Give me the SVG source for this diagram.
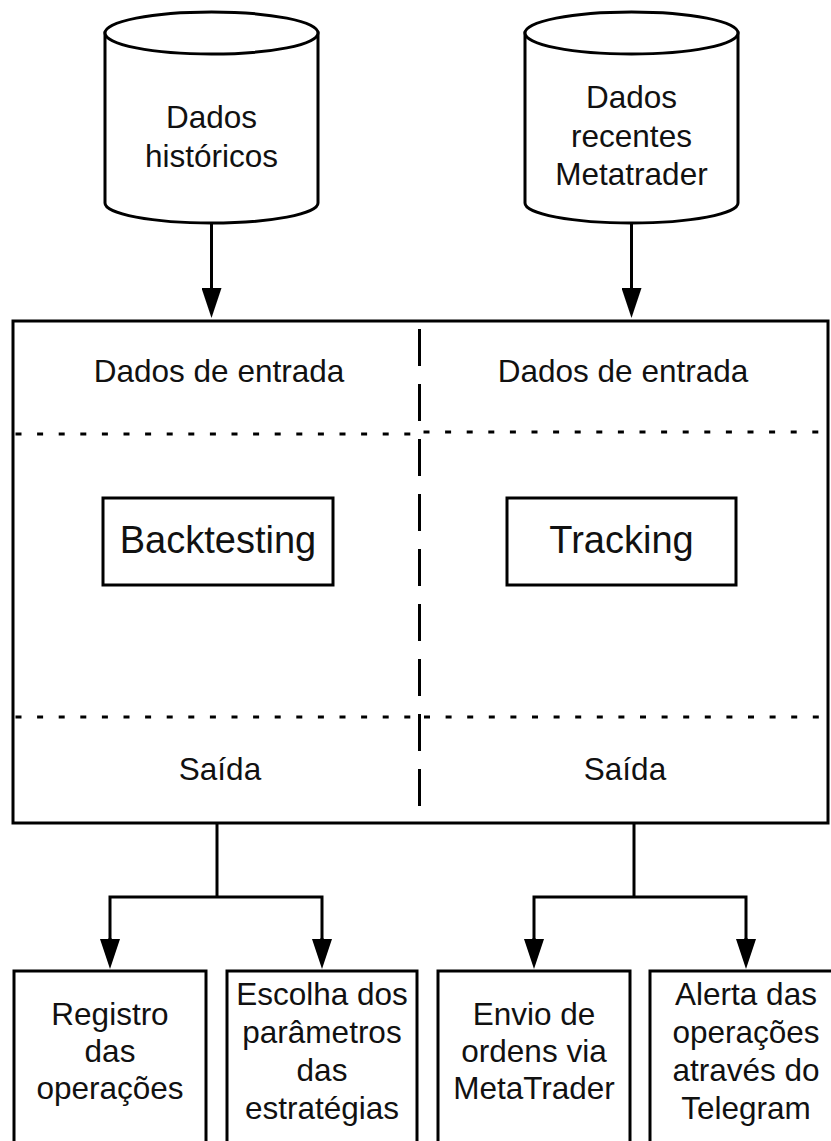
<svg xmlns="http://www.w3.org/2000/svg" width="831" height="1141" viewBox="0 0 831 1141">
<defs>
<style>
.s{fill:#fff;stroke:#000;stroke-width:3}
.t{font-family:"Liberation Sans",Arial,sans-serif;font-size:31.5px;fill:#111;text-anchor:middle}
.big{font-size:38px}
.c{fill:none;stroke:#000;stroke-width:3}
.dot{fill:none;stroke:#000;stroke-width:3;stroke-dasharray:6 15.6}
.dash{fill:none;stroke:#000;stroke-width:3;stroke-dasharray:37 18}
</style>
<marker id="arr" viewBox="0 0 30 20" refX="0" refY="10" markerWidth="30" markerHeight="20" markerUnits="userSpaceOnUse" orient="auto">
<path d="M0,0 L30,10 L0,20 Z" fill="#000"/>
</marker>
</defs>
<rect width="831" height="1141" fill="#fff"/>

<g id="db-historicos">
<path class="s" d="M105,33 L105,203 A106.5,20 0 0 0 318,203 L318,33 Z"/>
<ellipse class="s" cx="211.5" cy="33" rx="106.5" ry="21"/>
<text class="t" x="211.5" y="128">Dados</text>
<text class="t" x="211.5" y="167">históricos</text>
</g>

<g id="db-recentes">
<path class="s" d="M525,33 L525,203 A106.5,20 0 0 0 738,203 L738,33 Z"/>
<ellipse class="s" cx="631.5" cy="33" rx="106.5" ry="21"/>
<text class="t" x="631.5" y="108">Dados</text>
<text class="t" x="631.5" y="147">recentes</text>
<text class="t" x="631.5" y="185">Metatrader</text>
</g>

<g id="main">
<rect class="s" x="13" y="321" width="815" height="502"/>
<line class="dash" x1="419.5" y1="322" x2="419.5" y2="822" stroke-dashoffset="-7"/>
<line class="dot" x1="15.5" y1="434" x2="419" y2="434"/>
<line class="dot" x1="423.5" y1="432" x2="826" y2="432"/>
<line class="dot" x1="15.5" y1="717" x2="419" y2="717"/>
<line class="dot" x1="424" y1="717" x2="826" y2="717"/>
<text class="t" x="219" y="382">Dados de entrada</text>
<text class="t" x="623" y="382">Dados de entrada</text>
<text class="t" x="220" y="780">Saída</text>
<text class="t" x="625" y="780">Saída</text>
</g>

<g id="backtesting">
<rect class="s" x="103" y="498" width="230" height="87"/>
<text class="t big" x="218" y="553">Backtesting</text>
</g>

<g id="tracking">
<rect class="s" x="507" y="498" width="229" height="87"/>
<text class="t big" x="621.5" y="553">Tracking</text>
</g>

<g id="registro">
<rect class="s" x="14" y="971" width="192" height="190"/>
<text class="t" x="110" y="1025">Registro</text>
<text class="t" x="110" y="1062">das</text>
<text class="t" x="110" y="1099">operações</text>
</g>

<g id="escolha">
<rect class="s" x="227" y="971" width="190" height="190"/>
<text class="t" x="322" y="1005">Escolha dos</text>
<text class="t" x="322" y="1043">parâmetros</text>
<text class="t" x="322" y="1081">das</text>
<text class="t" x="322" y="1119">estratégias</text>
</g>

<g id="envio">
<rect class="s" x="438" y="971" width="192" height="190"/>
<text class="t" x="534" y="1025">Envio de</text>
<text class="t" x="534" y="1062">ordens via</text>
<text class="t" x="534" y="1099">MetaTrader</text>
</g>

<g id="alerta">
<rect class="s" x="650" y="971" width="192" height="190"/>
<text class="t" x="746" y="1005">Alerta das</text>
<text class="t" x="746" y="1043">operações</text>
<text class="t" x="746" y="1081">através do</text>
<text class="t" x="746" y="1119">Telegram</text>
</g>

<g id="connectors">
<path class="c" d="M211.5,223 L211.5,288" marker-end="url(#arr)"/>
<path class="c" d="M631.5,223 L631.5,288" marker-end="url(#arr)"/>
<path class="c" d="M217,823 L217,897"/>
<path class="c" d="M110,939 L110,897 L322,897 L322,939"/>
<path class="c" d="M110,938 L110,939" marker-end="url(#arr)"/>
<path class="c" d="M322,938 L322,939" marker-end="url(#arr)"/>
<path class="c" d="M634,823 L634,897"/>
<path class="c" d="M534,939 L534,897 L746,897 L746,939"/>
<path class="c" d="M534,938 L534,939" marker-end="url(#arr)"/>
<path class="c" d="M746,938 L746,939" marker-end="url(#arr)"/>
</g>
</svg>
